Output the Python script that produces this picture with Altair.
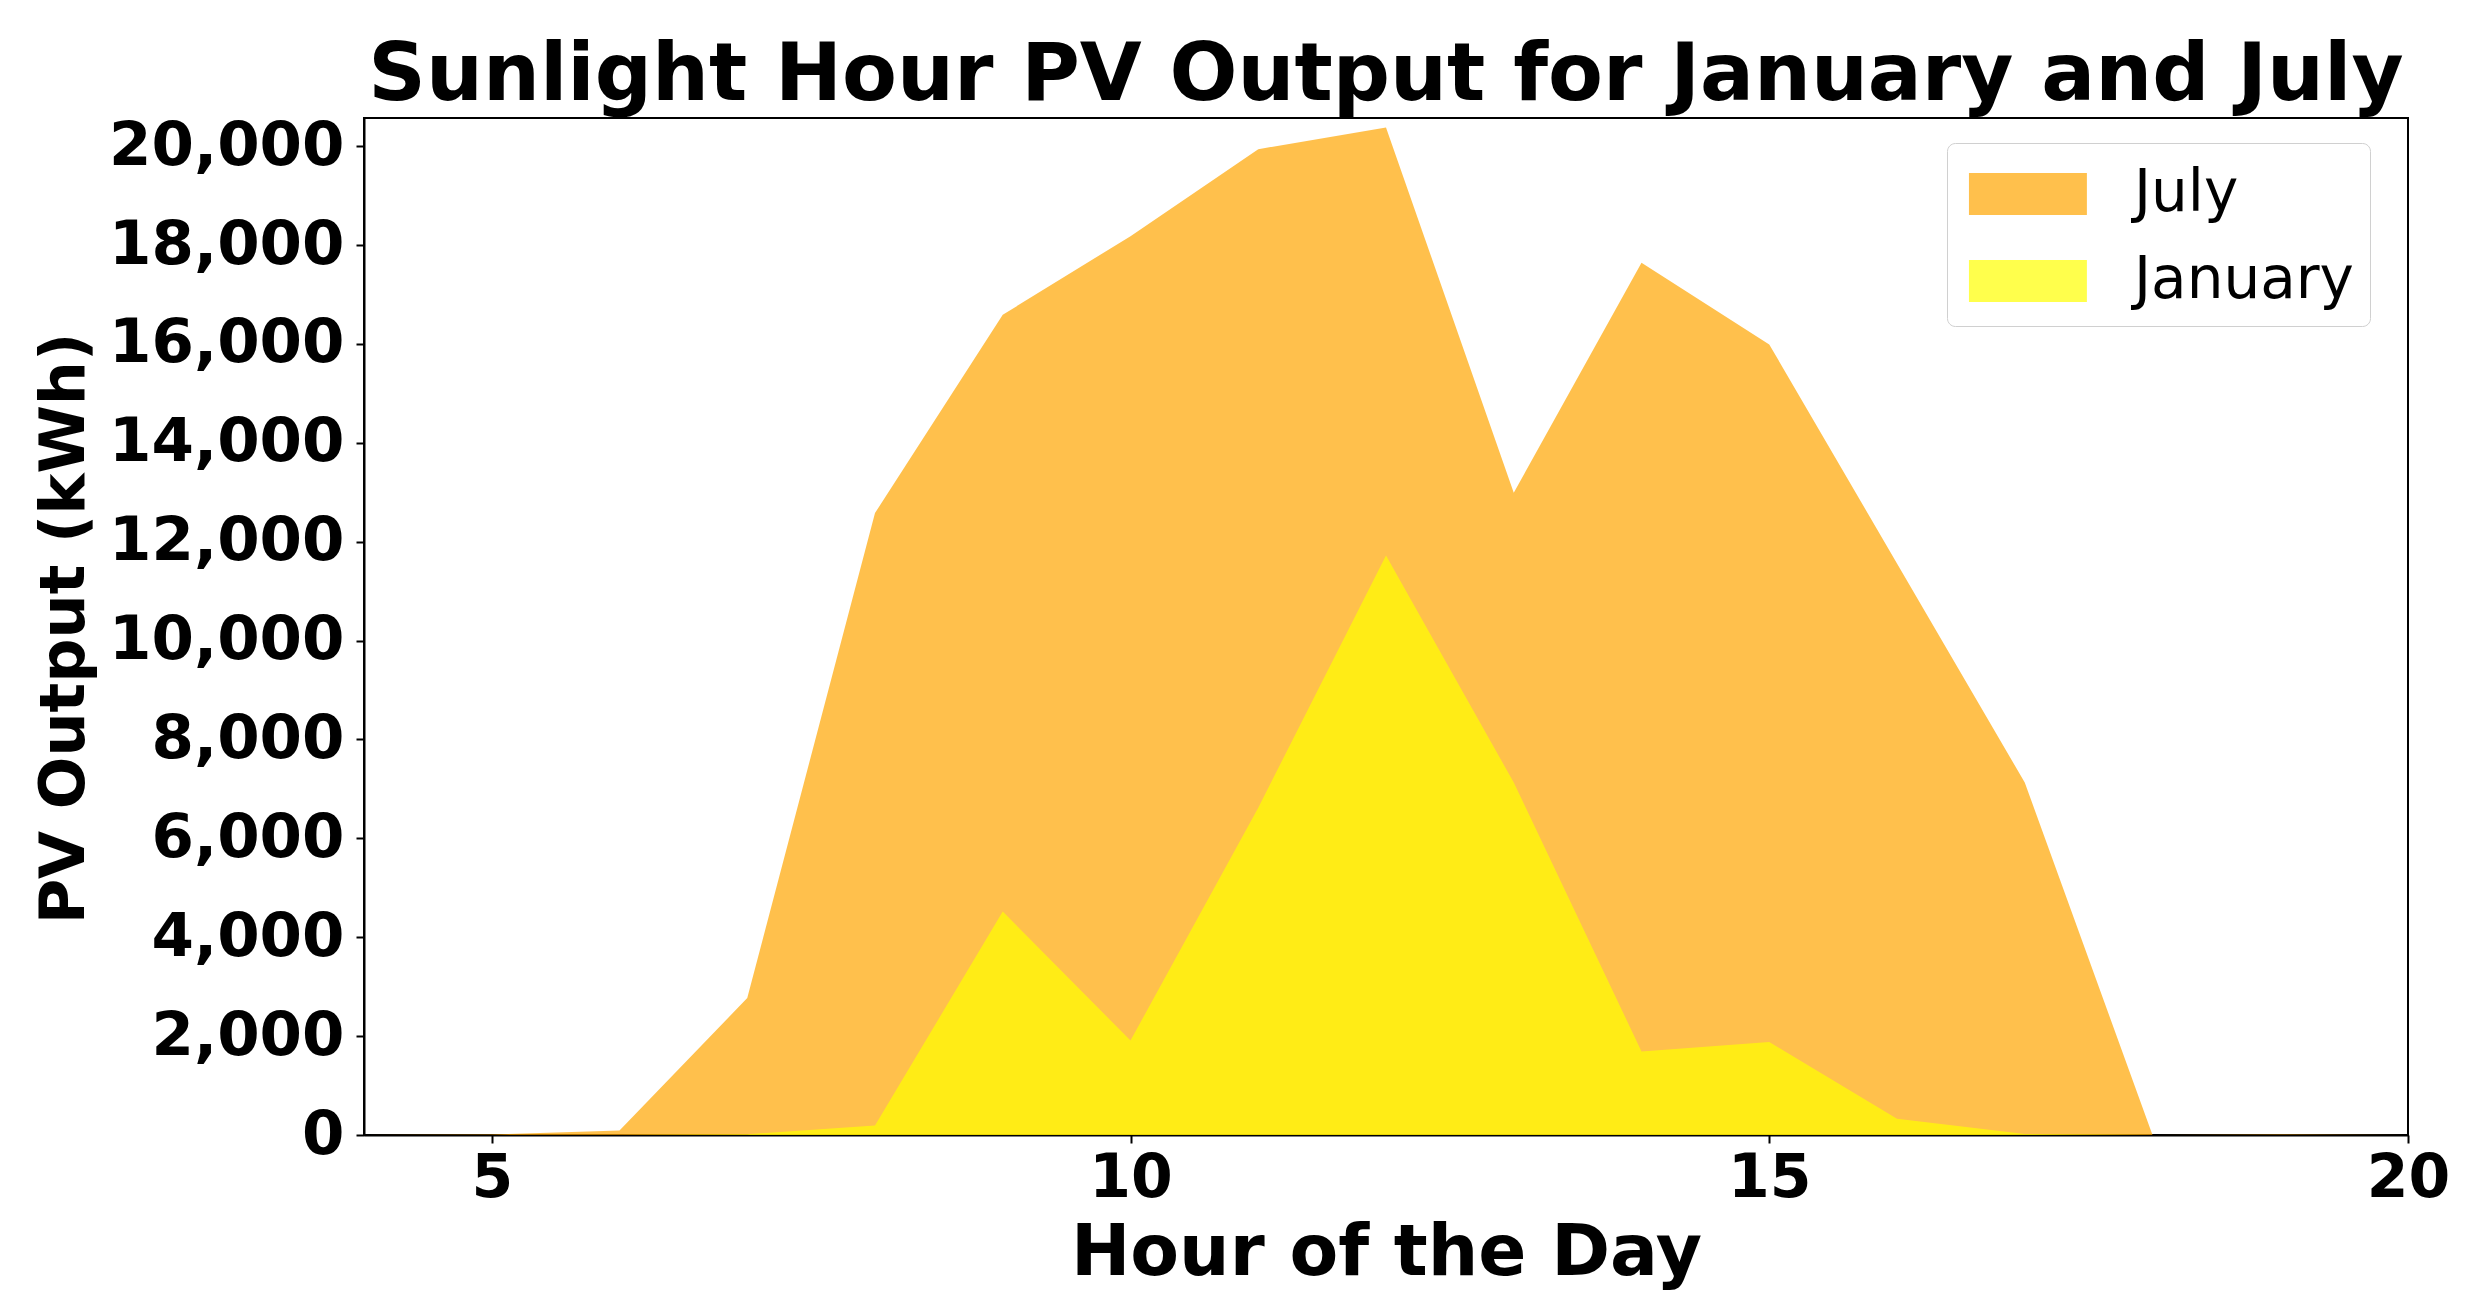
import altair as alt
import pandas as pd

hours = [4, 5, 6, 7, 8, 9, 10, 11, 12, 13, 14, 15, 16, 17, 18, 19, 20]
july = [0, 10, 90, 2770, 12580, 16590, 18180, 19940, 20380, 12990, 17640, 15990, 11560, 7130, 0, 10, 0]
january = [0, 0, 0, 15, 190, 4520, 1910, 6620, 11720, 7130, 1690, 1880, 330, 20, 0, 0, 0]
months = ["July", "January"]
colors = ["#FFA500", "#FFFF00"]
x_ticks = [5, 10, 15, 20]
y_ticks = list(range(0, 20001, 2000))

rows = []
for h, v in zip(hours, july):
    rows.append({"hour": h, "output": v, "month": "July"})
for h, v in zip(hours, january):
    rows.append({"hour": h, "output": v, "month": "January"})
df = pd.DataFrame(rows)

FONT = "DejaVu Sans"

x_enc = alt.X(
    "hour:Q",
    scale=alt.Scale(domain=[4, 20], nice=False, zero=False),
    axis=alt.Axis(
        values=x_ticks, title="Hour of the Day", grid=False,
        labelFontSize=60, labelFontWeight="bold", labelFont=FONT, labelColor="black",
        titleFontSize=71, titleFontWeight="bold", titleFont=FONT, titleColor="black",
        tickSize=8, tickWidth=2, tickColor="black", domainColor="black", domainWidth=2,
        labelPadding=6, titlePadding=10, labelFlush=False, labelLimit=500, titleLimit=1500,
    ),
)
y_enc = alt.Y(
    "output:Q",
    scale=alt.Scale(domain=[0, 20570], nice=False),
    axis=alt.Axis(
        values=y_ticks, format=",d", title="PV Output (kWh)", grid=False,
        labelFontSize=61, labelFontWeight="bold", labelFont=FONT, labelColor="black",
        titleFontSize=62, titleFontWeight="bold", titleFont=FONT, titleColor="black",
        tickSize=8, tickWidth=2, tickColor="black", domainColor="black", domainWidth=2,
        labelPadding=12, titleX=-281, titleY=510, titleAngle=270,
        titleAlign="center", titleBaseline="alphabetic",
        labelLimit=500, titleLimit=1500,
    ),
)
color_enc = alt.Color(
    "month:N",
    scale=alt.Scale(domain=months, range=colors),
    legend=alt.Legend(
        title=None, orient="none", legendX=1583, legendY=25,
        symbolType="M-0.83,-0.6H2.54V0.6H-0.83Z", symbolSize=4900,
        symbolOpacity=0.7, symbolStrokeWidth=0,
        labelFontSize=58, labelFont=FONT, labelColor="black", labelLimit=600,
        labelOffset=101, rowPadding=23, padding=16,
        strokeColor="#d0d0d0", fillColor="white", cornerRadius=8,
    ),
)

base = alt.Chart(df)
july_layer = base.transform_filter(alt.datum.month == "July").mark_area(opacity=0.7).encode(
    x=x_enc, y=y_enc, color=color_enc
)
jan_layer = base.transform_filter(alt.datum.month == "January").mark_area(opacity=0.7).encode(
    x=x_enc, y=y_enc, color=color_enc
)

chart = (
    alt.layer(july_layer, jan_layer)
    .properties(
        width=2044, height=1017,
        title=alt.TitleParams(
            "Sunlight Hour PV Output for January and July",
            fontSize=80, fontWeight="bold", font=FONT, color="black",
            anchor="middle", frame="group", baseline="alphabetic", offset=17, dy=82,
        ),
        padding={"left": 356, "top": 110, "right": 50, "bottom": 155},
        autosize=alt.AutoSizeParams(type="none"),
        background="white",
    )
    .configure_view(stroke="black", strokeWidth=2)
)

chart.save("out.html", embed_options={"renderer": "svg", "actions": False})
